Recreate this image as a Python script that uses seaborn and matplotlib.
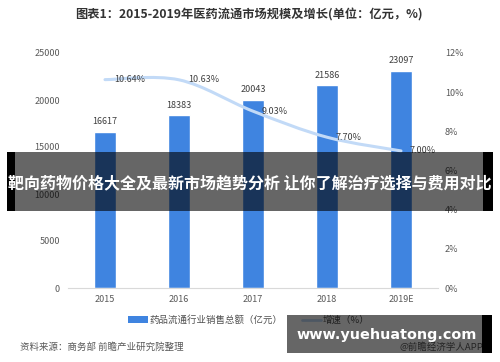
import numpy as np
import pandas as pd
import matplotlib
matplotlib.use('Agg')
import matplotlib.pyplot as plt
import seaborn as sns
from matplotlib.patches import Rectangle, PathPatch
from matplotlib.path import Path
from matplotlib.lines import Line2D
from matplotlib.patches import Patch

# ---- data ----
years = ['2015', '2016', '2017', '2018', '2019E']
sales = [16617, 18383, 20043, 21586, 23097]
growth = [10.64, 10.63, 9.03, 7.70, 7.00]
left_ticks = [0, 5000, 10000, 15000, 20000, 25000]
right_ticks = [0, 2, 4, 6, 8, 10, 12]

title = '图表1：2015-2019年医药流通市场规模及增长(单位：亿元，%)'
bar_name = '药品流通行业销售总额（亿元）'
line_name = '增速（%）'
source = '资料来源：商务部 前瞻产业研究院整理'
credit = '@前瞻经济学人APP'
banner = '靶向药物价格大全及最新市场趋势分析 让你了解治疗选择与费用对比'
site = 'www.yuehuatong.com'

BAR = '#3f84e0'
LINE = '#c2daf7'
TICK = '#595959'

sns.set_theme(style='white')
plt.rcParams['font.family'] = ['Noto Sans CJK SC', 'DejaVu Sans']

W, H = 500, 362
fig = plt.figure(figsize=(W / 100, H / 100), dpi=100)
fig.patch.set_facecolor('white')
ax = fig.add_axes([68 / W, 1 - 288 / H, 370 / W, 235 / H])

df = pd.DataFrame({'year': years, 'sales': sales, 'growth': growth})
sns.barplot(data=df, x='year', y='sales', color=BAR, saturation=1,
            width=0.31, ax=ax, zorder=2)
ax.set_ylim(0, 25000)
ax.set_xlim(-0.5, len(years) - 0.5)
ax.set_yticks(left_ticks)
ax.set_yticklabels([str(t) for t in left_ticks])
ax.set_xlabel('')
ax.set_ylabel('')
ax.bar_label(ax.containers[0], padding=4, fontsize=6.5, color='#404040')
ax.tick_params(axis='y', length=0, pad=5.8, labelsize=6.5, labelcolor=TICK)
ax.tick_params(axis='x', length=0, pad=5, labelsize=6.5, labelcolor=TICK)
for s in ['top', 'left', 'right']:
    ax.spines[s].set_visible(False)
ax.spines['bottom'].set_color('#d9d9d9')
ax.spines['bottom'].set_linewidth(0.8)

ax2 = ax.twinx()
ax2.set_ylim(0, 12)
ax2.set_yticks(right_ticks)
ax2.set_yticklabels([f'{t}%' for t in right_ticks])
ax2.tick_params(axis='y', length=0, pad=5, labelsize=6.5, labelcolor=TICK)
for s in ['top', 'left', 'right', 'bottom']:
    ax2.spines[s].set_visible(False)

# smoothed growth line (bezier through the data points)
pts = np.column_stack([np.arange(len(growth), dtype=float), np.array(growth)])
n = len(pts)
verts = [pts[0]]
codes = [Path.MOVETO]
for i in range(n - 1):
    p0 = pts[i - 1] if i > 0 else pts[i]
    p1 = pts[i]
    p2 = pts[i + 1]
    p3 = pts[i + 2] if i + 2 < n else pts[i + 1]
    c1 = p1 + (p2 - p0) / 6.0
    c2 = p2 - (p3 - p1) / 6.0
    verts += [c1, c2, p2]
    codes += [Path.CURVE4] * 3
ax2.add_patch(PathPatch(Path(verts, codes), facecolor='none', edgecolor=LINE,
                        lw=2.2, transform=ax2.transData, zorder=3,
                        capstyle='round'))
for i, g in enumerate(growth):
    ax2.annotate(f'{g:.2f}%', (i, g), xytext=(6.5, 0), textcoords='offset points',
                 va='center', ha='left', fontsize=6.5, color='#404040')

# legend
handles = [Patch(facecolor=BAR, edgecolor='none'),
           Line2D([0], [0], color=LINE, lw=2)]
fig.legend(handles, [bar_name, line_name], loc='center', ncol=2,
           bbox_to_anchor=(249 / W, 1 - 320 / H), frameon=False,
           fontsize=6.8, handlelength=2.1, handletextpad=0.15,
           columnspacing=2.0, labelcolor='#505050')

# texts
fig.text(249 / W, 1 - 15 / H, title, ha='center', va='center', fontsize=8.8,
         fontweight='bold', color='#333333')
fig.text(20 / W, 1 - 347 / H, source, ha='left', va='center', fontsize=6.8,
         color=TICK)
fig.text(483 / W, 1 - 347 / H, credit, ha='right', va='center', fontsize=6.8,
         color=TICK)

# banner overlay
def rect(x0, y0, x1, y1, color, alpha):
    fig.add_artist(Rectangle((x0 / W, 1 - y1 / H), (x1 - x0) / W, (y1 - y0) / H,
                             transform=fig.transFigure, facecolor=color,
                             edgecolor='none', alpha=alpha, zorder=10))

rect(7, 152, 15, 211, 'black', 1.0)
rect(15, 152, 483, 211, 'black', 0.6)
rect(483, 152, 493, 211, 'black', 1.0)
fig.text(250 / W, 1 - 183 / H, banner, ha='center', va='center', fontsize=11.5,
         fontweight='bold', color='white', zorder=11)

rect(287, 315, 482, 353, 'black', 0.6)
rect(482, 315, 492, 353, 'black', 1.0)
fig.text(387 / W, 1 - 335 / H, site, ha='center', va='center', fontsize=10.4,
         fontweight='bold', color='white', zorder=11, family='DejaVu Sans')

fig.savefig('out.png', dpi=100)
